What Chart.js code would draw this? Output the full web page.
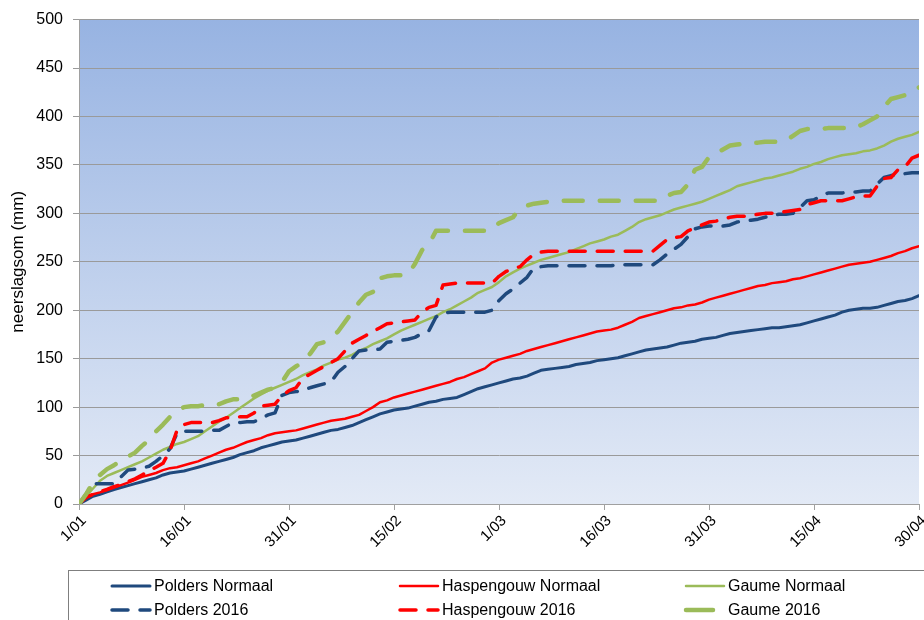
<!DOCTYPE html>
<html>
<head>
<meta charset="utf-8">
<title>Neerslagsom 2016</title>
<script src="https://cdn.jsdelivr.net/npm/chart.js@4.4.1/dist/chart.umd.min.js"></script>
<style>
  html, body { margin: 0; padding: 0; background: #fff; }
  #wrap { position: relative; width: 924px; height: 620px; }
</style>
</head>
<body>
<div id="wrap"><canvas id="myChart"></canvas></div>
<script>
// day index 0 = 1/01, 120 = 30/04 (2016 is a leap year)
const days = Array.from({ length: 121 }, (_, i) => i);
const tickLabels = ['1/01', '16/01', '31/01', '15/02', '1/03', '16/03', '31/03', '15/04', '30/04'];

const seriesNames = ['Polders Normaal', 'Haspengouw Normaal', 'Gaume Normaal',
  'Polders 2016', 'Haspengouw 2016', 'Gaume 2016'];

// cumulative precipitation in mm
const poldersNormaal = [0,4,8,10,12.5,15,17,19,21,23, 25,27,30,32,33,34,36,38,40,42,
  44,46,48,51,53,55,58,60,62,64, 65,66,68,70,72,74,76,77,79,81,
  84,87,90,93,95,97,98,99,101,103, 105,106,108,109,110,113,116,119,121,123,
  125,127,129,130,132,135,138,139,140,141, 142,144,145,146,148,149,150,151,153,155,
  157,159,160,161,162,164,166,167,168,170, 171,172,174,176,177,178,179,180,181,182,
  182,183,184,185,187,189,191,193,195,198, 200,201,202,202,203,205,207,209,210,212,
  215];

const haspengouwNormaal = [0,6,10,12,14.5,17,19.5,22,25,28, 30,32,35,37,38,40,42,44,47,50,
  53,56,58,61,64,66,68,71,73,74, 75,76,78,80,82,84,86,87,88,90,
  92,96,100,105,107,110,112,114,116,118, 120,122,124,126,129,131,134,137,140,146,
  149,151,153,155,158,160,162,164,166,168, 170,172,174,176,178,179,180,182,185,188,
  192,194,196,198,200,202,203,205,206,208, 211,213,215,217,219,221,223,225,226,228,
  229,230,232,233,235,237,239,241,243,245, 247,248,249,250,252,254,256,259,261,264,
  266];

const gaumeNormaal = [0,8,16,24,29,32,35,38,41,44, 48,52,56,59,62,64,67,70,75,80,
  85,89,94,99,104,109,113,117,120,123, 126,129,133,136,139,143,146,149,151,154,
  158,161,165,168,171,175,179,182,185,188, 191,194,198,201,205,209,213,218,221,224,
  229,235,239,243,246,249,252,254,256,258, 260,263,266,269,271,273,276,278,282,286,
  291,294,296,298,301,304,306,308,310,312, 315,318,321,324,328,330,332,334,336,337,
  339,341,343,346,348,351,353,356,358,360, 361,362,364,365,367,370,374,377,379,381,
  384];

const polders2016 = [0,10,21,21,21,21,28,35,36,37, 39,44,50,57,73,75,75,75,75,76,
  76,80,84,84,85,85,88,92,94,112, 115,116,117,120,122,124,126,136,142,150,
  158,159,159,160,167,168,169,170,172,176, 179,193,197,198,198,198,198,198,198,200,
  210,217,222,228,234,244,245,246,246,246, 246,246,246,246,246,246,246,247,247,247,
  247,247,247,252,258,263,268,276,284,286, 287,287,287,288,291,292,293,294,296,298,
  299,299,300,306,313,314,318,321,321,321, 322,322,323,323,330,337,339,340,341,342,
  342];

const haspengouw2016 = [0,7,10,13,15,18,20,23,26,30, 34,38,42,55,76,82,84,84,84,84,
  86,89,89,90,90,94,101,102,103,112, 117,120,130,134,138,142,146,150,158,166,
  170,174,178,182,186,187,188,189,190,198, 203,205,226,227,228,228,228,228,228,228,
  235,240,243,245,252,258,260,261,261,261, 261,261,261,261,261,261,261,261,261,261,
  261,261,261,267,273,275,276,282,285,288, 291,292,294,296,297,297,298,299,300,300,
  301,302,303,304,309,311,313,313,313,313, 315,317,318,318,328,336,337,345,348,357,
  360];

const gaume2016 = [0,10,22,30,36,40,45,49,53,60, 66,75,82,90,96,100,101,101,102,102,
  103,106,108,108,109,112,115,118,120,126, 137,142,147,155,165,167,172,178,188,198,
  208,216,219,233,235,236,236,237,248,262, 268,282,282,282,282,282,282,282,282,283,
  290,293,296,305,308,310,311,312,313,313, 313,313,313,313,313,313,313,313,313,313,
  313,313,313,313,318,321,322,330,345,348, 358,362,366,370,371,372,373,373,374,374,
  374,375,380,385,387,387,387,388,388,388, 388,389,392,396,400,410,418,420,422,424,
  430];

const FONT = '"Liberation Sans", Arial, sans-serif';
const BLUE = '#1F497D';
const RED = '#FF0000';
const GREEN = '#9BBB59';

// blue gradient behind the plot area
const plotBackground = {
  id: 'plotBackground',
  beforeDraw(chart) {
    const { ctx, chartArea: a } = chart;
    const g = ctx.createLinearGradient(0, a.top, 0, a.bottom);
    g.addColorStop(0, '#97B3E2');
    g.addColorStop(1, '#E3EAF6');
    ctx.save();
    ctx.fillStyle = g;
    ctx.fillRect(a.left, a.top, a.right - a.left, a.bottom - a.top);
    ctx.restore();
  }
};

// framed legend in three columns under the axis
const boxLegend = {
  id: 'boxLegend',
  afterDraw(chart) {
    const ctx = chart.ctx;
    const cols = [112, 400, 686];
    const rows = [586, 610];
    ctx.save();
    ctx.strokeStyle = '#7f7f7f';
    ctx.lineWidth = 1;
    ctx.strokeRect(68.5, 570.5, 900, 80);
    ctx.font = '16px ' + FONT;
    ctx.textBaseline = 'middle';
    chart.data.datasets.forEach((ds, i) => {
      const x = cols[i % 3];
      const y = rows[Math.floor(i / 3)];
      // the thick dashed sample shows a single long dash
      const len = ds.borderWidth > 4 ? 27 : 38;
      ctx.strokeStyle = ds.borderColor;
      ctx.lineWidth = ds.borderWidth;
      ctx.lineCap = 'round';
      ctx.setLineDash(ds.borderWidth > 4 ? [] : (ds.borderDash || []));
      ctx.beginPath();
      ctx.moveTo(x, y);
      ctx.lineTo(x + len, y);
      ctx.stroke();
      ctx.setLineDash([]);
      ctx.fillStyle = '#000';
      ctx.fillText(ds.label, x + 42, y + 1);
    });
    ctx.restore();
  }
};

const seriesValues = [poldersNormaal, haspengouwNormaal, gaumeNormaal,
  polders2016, haspengouw2016, gaume2016];
const seriesStyles = [
  { borderColor: BLUE, borderWidth: 3 },
  { borderColor: RED, borderWidth: 2.5 },
  { borderColor: GREEN, borderWidth: 2.5 },
  { borderColor: BLUE, borderWidth: 3.5, borderDash: [16, 12] },
  { borderColor: RED, borderWidth: 3.5, borderDash: [16, 12] },
  { borderColor: GREEN, borderWidth: 4.5, borderDash: [19, 17] }
];

const datasets = seriesValues.map((values, i) => Object.assign({
  label: seriesNames[i],
  data: values,
  pointRadius: 0,
  tension: 0,
  fill: false,
  borderCapStyle: 'round',
  borderJoinStyle: 'round',
  order: seriesValues.length - i
}, seriesStyles[i]));

const ctx = document.getElementById('myChart').getContext('2d');
const myChart = new Chart(ctx, {
  type: 'line',
  data: { labels: days, datasets: datasets },
  options: {
    responsive: true,
    maintainAspectRatio: false,
    animation: false,
    layout: { padding: { top: 18, right: 5, bottom: 50, left: 0 } },
    plugins: {
      legend: { display: false },
      tooltip: { enabled: false }
    },
    scales: {
      x: {
        type: 'linear',
        min: 0,
        max: 120,
        grid: { drawOnChartArea: false, drawTicks: true, tickLength: 6, color: '#a0a0a0' },
        border: { color: '#a0a0a0' },
        ticks: {
          stepSize: 15,
          autoSkip: false,
          minRotation: 45,
          maxRotation: 45,
          padding: 2,
          labelOffset: 5,
          color: '#000',
          font: { family: FONT, size: 15 },
          callback: (v) => tickLabels[v / 15]
        },
        afterFit: (s) => { s.height = 66; s.paddingLeft = 0; s.paddingRight = 0; }
      },
      y: {
        min: 0,
        max: 500,
        grid: { color: '#9a9a9a', tickLength: 6 },
        border: { color: '#a0a0a0' },
        ticks: {
          stepSize: 50,
          padding: 10,
          color: '#000',
          font: { family: FONT, size: 16 }
        },
        title: {
          display: true,
          text: 'neerslagsom (mm)',
          color: '#000',
          font: { family: FONT, size: 17 },
          padding: { top: 8, bottom: 0 }
        },
        afterFit: (s) => { s.width = 79; }
      }
    }
  },
  plugins: [plotBackground, boxLegend]
});
</script>
</body>
</html>
